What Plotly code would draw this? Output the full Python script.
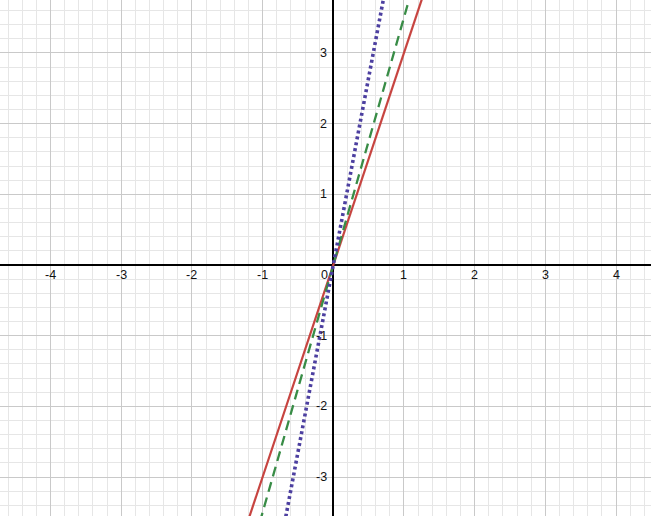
import plotly.graph_objects as go

# data
x_pts = [-1.6, 1.6]
red_y = [-4.8, 4.8]        # y = 3x
green_y = [-5.6, 5.6]      # y = 3.5x
blue_y = [-8.48, 8.48]     # y = 5.3x

x_ticks = [-4, -3, -2, -1, 1, 2, 3, 4]
x_tick_labels = ["-4", "-3", "-2", "-1", "1", "2", "3", "4"]
y_ticks = [-3, -2, -1, 1, 2, 3]
y_tick_labels = ["-3", "-2", "-1", "1", "2", "3"]
origin_label = "0"

fig = go.Figure()
fig.add_trace(go.Scatter(x=x_pts, y=red_y, mode="lines",
                         line=dict(color="#c74440", width=2.2), hoverinfo="skip"))
fig.add_trace(go.Scatter(x=x_pts, y=green_y, mode="lines",
                         line=dict(color="#388c46", width=2.3, dash="10px,6px"), hoverinfo="skip"))
fig.add_trace(go.Scatter(x=x_pts, y=blue_y, mode="lines",
                         line=dict(color="#4c3fa0", width=3.6, dash="3px,3px"), hoverinfo="skip"))

font = dict(family="Liberation Sans, Arial, sans-serif", size=12.5, color="#111111")
ann = []
for xv, t in zip(x_ticks, x_tick_labels):
    ann.append(dict(x=xv, y=0, text=t, showarrow=False, xanchor="center", yanchor="middle",
                    yshift=-10, font=font))
for yv, t in zip(y_ticks, y_tick_labels):
    ann.append(dict(x=0, y=yv, text=t, showarrow=False, xanchor="right", yanchor="middle",
                    xshift=-4, font=font))
ann.append(dict(x=0, y=0, text=origin_label, showarrow=False, xanchor="right", yanchor="middle",
                xshift=-3, yshift=-10, font=font))

axis_common = dict(
    showgrid=True, gridcolor="#c9c9c9", gridwidth=1,
    dtick=1, tick0=0, showticklabels=False, ticks="",
    zeroline=True, zerolinecolor="#000000", zerolinewidth=1.6,
    minor=dict(dtick=0.2, tick0=0, showgrid=True, gridcolor="#e6e6e6", gridwidth=1),
    showline=False, fixedrange=True,
)

fig.update_layout(
    width=651, height=516,
    margin=dict(l=0, r=0, t=0, b=0),
    plot_bgcolor="white", paper_bgcolor="white",
    showlegend=False,
    xaxis=dict(range=[-4.714, 4.494], **axis_common),
    yaxis=dict(range=[-3.550, 3.748], **axis_common),
    annotations=ann,
)

fig.write_html("out.html", config={"displayModeBar": False},
               post_script="document.body.style.margin='0';")
